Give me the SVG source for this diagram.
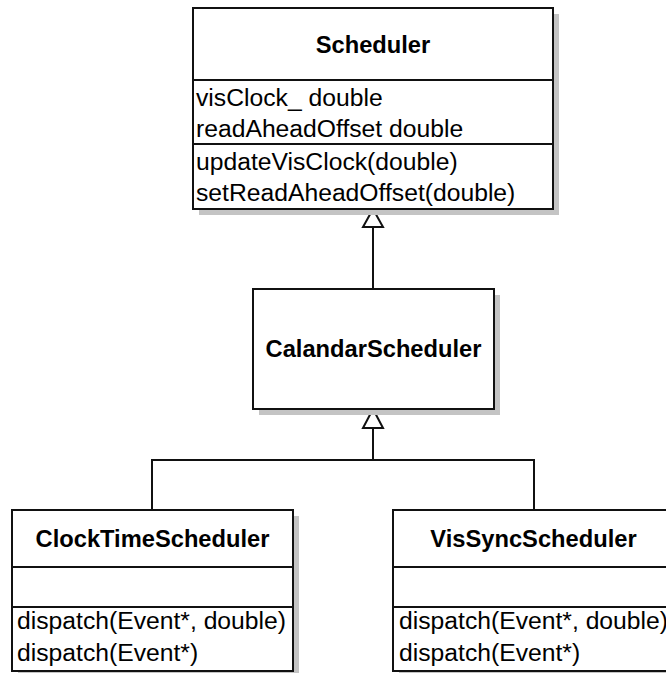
<svg xmlns="http://www.w3.org/2000/svg" width="666" height="673" viewBox="0 0 666 673">
<style>
.shadow{fill:#c4c4c4;stroke:none}
.box{fill:#ffffff;stroke:#111111;stroke-width:2}
.div{stroke:#111111;stroke-width:2;fill:none}
.title{font-family:"Liberation Sans",Arial,sans-serif;font-weight:bold;font-size:23.7px;fill:#000000;text-anchor:middle}
.mem{font-family:"Liberation Sans",Arial,sans-serif;font-size:24.7px;fill:#000000}
.conn{stroke:#111111;stroke-width:2;fill:none}
.tri{fill:#ffffff;stroke:#111111;stroke-width:2}
</style>
<rect width="666" height="673" fill="#ffffff"/>
<g id="connectors">
<polyline class="conn" points="373,227 373,289"/>
<polygon class="tri" points="373,209 363,227 383,227"/>
<polyline class="conn" points="373,428 373,460"/>
<polyline class="conn" points="152,510 152,460 534,460 534,510"/>
<polygon class="tri" points="373,409 363,428 383,428"/>
</g>
<g id="Scheduler">
<rect class="shadow" x="199" y="14" width="360" height="201"/>
<rect class="box" x="193" y="8" width="360" height="201"/>
<line class="div" x1="193" y1="80" x2="553" y2="80"/>
<line class="div" x1="193" y1="144" x2="553" y2="144"/>
<text class="title" x="373" y="53">Scheduler</text>
<text class="mem" x="196" y="106">visClock_ double</text>
<text class="mem" x="196" y="137">readAheadOffset double</text>
<text class="mem" x="196" y="170">updateVisClock(double)</text>
<text class="mem" x="196" y="201">setReadAheadOffset(double)</text>
</g>
<g id="CalandarScheduler">
<rect class="shadow" x="259" y="295" width="241" height="120"/>
<rect class="box" x="253" y="289" width="241" height="120"/>
<text class="title" x="373.5" y="357">CalandarScheduler</text>
</g>
<g id="ClockTimeScheduler">
<rect class="shadow" x="18" y="516" width="281" height="161"/>
<rect class="box" x="12" y="510" width="281" height="161"/>
<line class="div" x1="12" y1="567" x2="293" y2="567"/>
<line class="div" x1="12" y1="607" x2="293" y2="607"/>
<text class="title" x="152.5" y="547">ClockTimeScheduler</text>
<text class="mem" x="17" y="629">dispatch(Event*, double)</text>
<text class="mem" x="17" y="661">dispatch(Event*)</text>
</g>
<g id="VisSyncScheduler">
<rect class="shadow" x="399" y="516" width="281" height="161"/>
<rect class="box" x="393" y="510" width="281" height="161"/>
<line class="div" x1="393" y1="567" x2="674" y2="567"/>
<line class="div" x1="393" y1="607" x2="674" y2="607"/>
<text class="title" x="533.5" y="547">VisSyncScheduler</text>
<text class="mem" x="399" y="629">dispatch(Event*, double)</text>
<text class="mem" x="399" y="661">dispatch(Event*)</text>
</g>
</svg>
